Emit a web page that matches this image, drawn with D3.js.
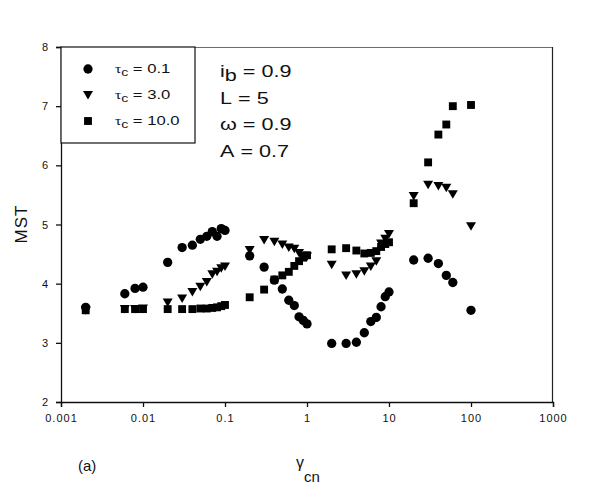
<!DOCTYPE html>
<html>
<head>
<meta charset="utf-8">
<script src="https://cdn.jsdelivr.net/npm/d3@7"></script>
<style>
  body { margin: 0; background: #fff; }
  svg { font-family: "Liberation Sans", Arial, sans-serif; }
</style>
</head>
<body>
<div id="my_dataviz"></div>
<script>
// gamma_cn values (same for all three series)
var gammaX = [0.002, 0.006, 0.008, 0.01, 0.02, 0.03, 0.04, 0.05, 0.06, 0.07, 0.08, 0.09, 0.1,
              0.2, 0.3, 0.4, 0.5, 0.6, 0.7, 0.8, 0.9, 1,
              2, 3, 4, 5, 6, 7, 8, 9, 10,
              20, 30, 40, 50, 60, 100];

// MST for tau_c = 0.1 (circles)
var mstTau01 = [3.6, 3.83, 3.92, 3.94, 4.36, 4.61, 4.65, 4.75, 4.8, 4.88, 4.8, 4.93, 4.9,
                4.47, 4.28, 4.06, 3.91, 3.72, 3.63, 3.44, 3.38, 3.32,
                2.99, 2.99, 3.01, 3.17, 3.36, 3.43, 3.61, 3.78, 3.86,
                4.4, 4.43, 4.34, 4.14, 4.02, 3.55];

// MST for tau_c = 3.0 (triangles)
var mstTau3 = [3.55, 3.57, 3.57, 3.58, 3.68, 3.75, 3.86, 3.95, 4.03, 4.16, 4.2, 4.26, 4.29,
               4.57, 4.74, 4.71, 4.66, 4.61, 4.59, 4.52, 4.47, 4.46,
               4.32, 4.14, 4.16, 4.21, 4.29, 4.38, 4.68, 4.76, 4.84,
               5.48, 5.67, 5.65, 5.62, 5.51, 4.97];

// MST for tau_c = 10.0 (squares)
var mstTau10 = [3.55, 3.57, 3.57, 3.57, 3.57, 3.57, 3.57, 3.58, 3.58, 3.59, 3.6, 3.62, 3.64,
                3.77, 3.9, 4.07, 4.14, 4.2, 4.3, 4.38, 4.44, 4.48,
                4.58, 4.6, 4.56, 4.51, 4.52, 4.55, 4.62, 4.67, 4.7,
                5.36, 6.05, 6.52, 6.69, 7.0, 7.02];

var xTicks = [0.001, 0.01, 0.1, 1, 10, 100, 1000];
var xTickLabels = ["0.001", "0.01", "0.1", "1", "10", "100", "1000"];
var yTicks = [2, 3, 4, 5, 6, 7, 8];

var seriesNames = ["0.1", "3.0", "10.0"];
var seriesShapes = ["circle", "triangle", "square"];
var seriesValues = [mstTau01, mstTau3, mstTau10];

var params = [["i", "b", " = 0.9"], ["L", "", " = 5"], ["\u03c9", "", " = 0.9"], ["A", "", " = 0.7"]];

// set the dimensions and margins of the graph
var margin = {top: 47, right: 47, bottom: 96, left: 61},
  width = 600 - margin.left - margin.right,
  height = 498 - margin.top - margin.bottom;

var svg0 = d3.select("#my_dataviz")
.append("svg")
  .attr("width", 600)
  .attr("height", 498);

var svg = svg0.append("g")
  .attr("transform", "translate(" + margin.left + "," + margin.top + ")");

var x = d3.scaleLog()
  .domain([0.001, 1000])
  .range([0, width]);

var y = d3.scaleLinear()
  .domain([2, 8])
  .range([height, 0]);

// frame top and right
svg.append("line")
  .attr("x1", 0).attr("x2", width).attr("y1", 0.5).attr("y2", 0.5)
  .attr("stroke", "#6e6e6e").attr("stroke-width", 1.2);
svg.append("line")
  .attr("x1", width - 0.5).attr("x2", width - 0.5).attr("y1", 0).attr("y2", height)
  .attr("stroke", "#222").attr("stroke-width", 1.2);

// X axis
var xAxis = svg.append("g")
  .attr("transform", "translate(0," + height + ")")
  .call(d3.axisBottom(x).tickValues(xTicks).tickSize(5).tickPadding(7)
    .tickFormat(function(d, i) { return xTickLabels[i]; }));
xAxis.selectAll("text").style("font-size", "11px").style("letter-spacing", "1px").attr("fill", "#111");
xAxis.selectAll("line,path").attr("stroke", "#111").attr("stroke-width", 1.3);

// Y axis
var yAxis = svg.append("g")
  .call(d3.axisLeft(y).tickValues(yTicks).tickSize(5).tickPadding(8).tickFormat(d3.format("d")));
yAxis.selectAll("text").style("font-size", "11px").attr("fill", "#111");
yAxis.selectAll("line,path").attr("stroke", "#111").attr("stroke-width", 1.3);

// marker generator
function markerPath(shape) {
  if (shape == "circle") return d3.symbol().type(d3.symbolCircle).size(68)();
  if (shape == "square") return d3.symbol().type(d3.symbolSquare).size(62)();
  return "M-5,-4L5,-4L0,4.5Z";
}

// points
seriesValues.forEach(function(vals, s) {
  var data = gammaX.map(function(g, i) { return {g: g, v: vals[i]}; });
  svg.append("g").selectAll("path")
    .data(data)
    .enter()
    .append("path")
    .attr("d", markerPath(seriesShapes[s]))
    .attr("transform", function(d) { return "translate(" + x(d.g) + "," + y(d.v) + ")"; })
    .attr("fill", "#000");
});

// legend
var legend = svg.append("g");
legend.append("rect")
  .attr("x", 0).attr("y", 0).attr("width", 134).attr("height", 96)
  .attr("fill", "#fff").attr("stroke", "#111").attr("stroke-width", 1.2);
seriesNames.forEach(function(n, i) {
  var gy = 22 + i * 26;
  legend.append("path")
    .attr("d", markerPath(seriesShapes[i]))
    .attr("transform", "translate(27," + gy + ")")
    .attr("fill", "#000");
  // the original text is drawn a bit wide, so stretch it horizontally
  var t = legend.append("text")
    .attr("transform", "translate(54," + (gy + 4) + ") scale(1.28,1)")
    .style("font-size", "13px").attr("fill", "#111");
  t.append("tspan").text("\u03c4").style("font-family", "'Liberation Serif', serif").style("font-size", "12px");
  t.append("tspan").text("c").attr("dy", 3).style("font-size", "11px");
  t.append("tspan").text(" = " + n).attr("dy", -3);
});

// parameter annotations
params.forEach(function(p, i) {
  var t = svg.append("text")
    .attr("transform", "translate(159," + (30 + i * 26.5) + ") scale(1.35,1)")
    .style("font-size", "16px").attr("fill", "#111");
  t.append("tspan").text(p[0]);
  if (p[1]) t.append("tspan").text(p[1]).attr("dy", 4);
  t.append("tspan").text(p[2]).attr("dy", p[1] ? -4 : 0);
});

// axis titles
svg0.append("text")
  .attr("transform", "translate(27,224) rotate(-90)")
  .attr("text-anchor", "middle")
  .style("font-size", "17px").style("letter-spacing", "1px").attr("fill", "#111")
  .text("MST");

var xt = svg0.append("text")
  .attr("x", 296).attr("y", 468)
  .style("font-size", "16px").attr("fill", "#111");
xt.append("tspan").text("\u03b3");
xt.append("tspan").text("cn").attr("dy", 14).style("font-size", "15px");

svg0.append("text")
  .attr("x", 78).attr("y", 471)
  .style("font-size", "15px").attr("fill", "#111")
  .text("(a)");
</script>
</body>
</html>
